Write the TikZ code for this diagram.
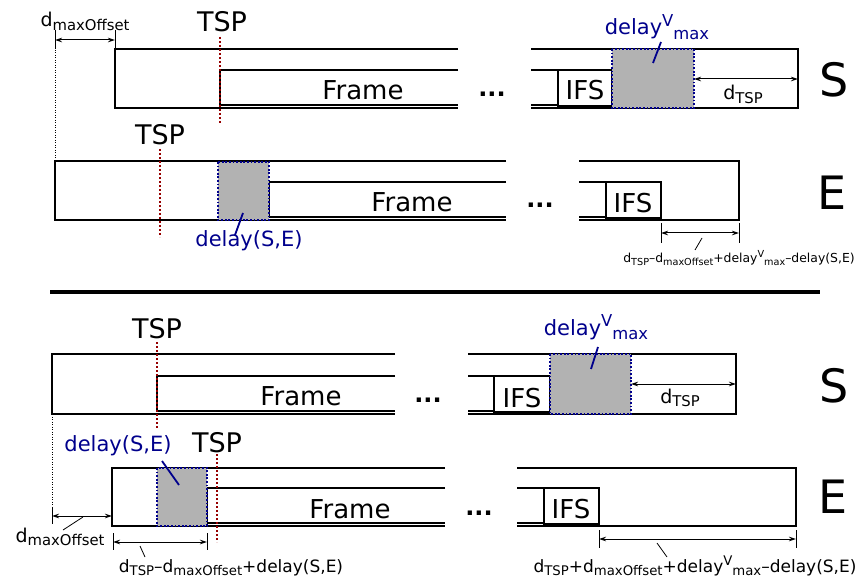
\documentclass[tikz,border=0pt]{standalone}
\usepackage{fontspec}
\setmainfont{DejaVu Sans}
\usetikzlibrary{arrows.meta}
\definecolor{navyb}{RGB}{0,0,140}
\definecolor{tspred}{RGB}{150,0,0}
\newcommand{\lsub}[1]{\raisebox{-0.35ex}{\scalebox{0.78}{#1}}}
\newcommand{\lsup}[1]{\raisebox{0.75ex}{\scalebox{0.78}{#1}}}
\tikzset{
  box/.style={line width=1.5pt},
  graybox/.style={fill=gray!60, draw=navyb, line width=1.8pt, dash pattern=on 1.8pt off 1.8pt},
  tspline/.style={draw=tspred, line width=2pt, dash pattern=on 2pt off 2pt},
  offline/.style={line width=1pt, dash pattern=on 1pt off 1.5pt},
  dim/.style={line width=1pt, {Stealth[length=7pt,width=4.5pt]}-{Stealth[length=7pt,width=4.5pt]}},
  tickln/.style={line width=1pt},
  leader/.style={line width=0.8pt},
  bleader/.style={draw=navyb, line width=1.8pt},
  bigtxt/.style={font=\fontsize{26}{26}\selectfont, inner sep=0pt, anchor=base},
  tsptxt/.style={font=\fontsize{27}{27}\selectfont, inner sep=0pt, anchor=base},
  rowtxt/.style={font=\fontsize{46}{46}\selectfont, inner sep=0pt, anchor=base},
  lbl/.style={font=\fontsize{19}{19}\selectfont, inner sep=0pt, anchor=base},
  blbl/.style={font=\fontsize{21}{21}\selectfont, text=navyb, inner sep=0pt, anchor=base},
  frm/.style={font=\fontsize{17}{17}\selectfont, inner sep=0pt, anchor=base},
  sfrm/.style={font=\fontsize{12.4}{12.4}\selectfont, inner sep=0pt, anchor=base},
  dotstxt/.style={font=\fontsize{24}{24}\selectfont\bfseries, inner sep=0pt, anchor=base},
}
\begin{document}
\begin{tikzpicture}[x=1pt,y=-1pt]
\useasboundingbox (0,0) rectangle (860,580);

% ================= TOP: S row =================
\draw[box] (458,49) -- (115,49) -- (115,108) -- (458,108);
\draw[box] (458,70) -- (220,70) -- (220,105) -- (458,105);
\draw[box] (531,49) -- (798,49) -- (798,108) -- (531,108);
\draw[box] (531,70) -- (558,70);
\draw[box] (531,105) -- (558,105);
\draw[box] (558,70) rectangle (612,106);
\draw[graybox] (612,49) rectangle (694,108);
\node[bigtxt] (frameA) at (363,100) {Frame};
\node[dotstxt] (dotsA) at (492,97) {...};
\node[bigtxt] (ifsA) at (585,100) {IFS};
\node[rowtxt] (rowSA) at (834,97) {S};
\node[tsptxt] (tspA) at (222,32) {TSP};
\draw[tspline] (220,37) -- (220,123);
\node[blbl] (dvmA) at (657,35) {delay\lsup{V}\lsub{max}};
\draw[bleader] (661,42) -- (653,63);
\coordinate (dtA1) at (694,79);
\coordinate (dtA2) at (798,79);
\draw[dim] (dtA1) -- (dtA2);
\node[lbl] (dtspA) at (743,100) {d\lsub{TSP}};
% d_maxOffset top
\node[lbl] (dmoA) at (85,27) {d\lsub{maxOffset}};
\coordinate (moA1) at (55,40);
\coordinate (moA2) at (115,40);
\draw[tickln] (55,30) -- (55,49);
\draw[tickln] (115,30) -- (115,49);
\draw[dim] (moA1) -- (moA2);
\draw[offline] (55,45) -- (55,161);

% ================= TOP: E row =================
\draw[box] (506,161) -- (55,161) -- (55,220) -- (506,220);
\draw[box] (506,182) -- (269,182) -- (269,217) -- (506,217);
\draw[box] (579,161) -- (739,161) -- (739,220) -- (579,220);
\draw[box] (579,182) -- (606,182);
\draw[box] (579,217) -- (606,217);
\draw[box] (606,182) rectangle (661,218);
\draw[graybox] (218,162) rectangle (269,220);
\node[bigtxt] (frameB) at (412,212) {Frame};
\node[dotstxt] (dotsB) at (540,208) {...};
\node[bigtxt] (ifsB) at (633,213) {IFS};
\node[rowtxt] (rowEB) at (832,210) {E};
\node[tsptxt] (tspB) at (160,145) {TSP};
\draw[tspline] (160,149) -- (160,237);
\node[blbl] (dseB) at (249,247) {delay(S,E)};
\draw[bleader] (243,213) -- (235,235);
\draw[tickln] (661,223) -- (661,243);
\draw[tickln] (739,223) -- (739,243);
\coordinate (fB1) at (661,233);
\coordinate (fB2) at (739,233);
\draw[dim] (fB1) -- (fB2);
\draw[leader] (702,238) -- (695,250);
\node[sfrm] (formB) at (739,263) {d\lsub{TSP}–d\lsub{maxOffset}+delay\lsup{V}\lsub{max}–delay(S,E)};

% separator
\draw[line width=3.5pt] (50,292) -- (820,292);

% ================= BOTTOM: S row =================
\draw[box] (395,354) -- (52,354) -- (52,414) -- (395,414);
\draw[box] (395,376) -- (157,376) -- (157,411) -- (395,411);
\draw[box] (468,354) -- (736,354) -- (736,414) -- (468,414);
\draw[box] (468,376) -- (494,376);
\draw[box] (468,411) -- (494,411);
\draw[box] (494,376) rectangle (550,412);
\draw[graybox] (550,354) rectangle (631,414);
\node[bigtxt] (frameC) at (301,405) {Frame};
\node[dotstxt] (dotsC) at (428,402) {...};
\node[bigtxt] (ifsC) at (522,407) {IFS};
\node[rowtxt] (rowSC) at (834,402) {S};
\node[tsptxt] (tspC) at (157,338) {TSP};
\draw[tspline] (157,342) -- (157,428);
\node[blbl] (dvmC) at (596,335) {delay\lsup{V}\lsub{max}};
\draw[bleader] (598,347) -- (591,369);
\coordinate (dtC1) at (631,384);
\coordinate (dtC2) at (736,384);
\draw[dim] (dtC1) -- (dtC2);
\node[lbl] (dtspC) at (680,403) {d\lsub{TSP}};
\draw[offline] (52,354) -- (52,510);

% ================= BOTTOM: E row =================
\draw[box] (445,468) -- (112,468) -- (112,526) -- (445,526);
\draw[box] (445,488) -- (207,488) -- (207,523) -- (445,523);
\draw[box] (517,468) -- (796,468) -- (796,526) -- (517,526);
\draw[box] (517,488) -- (544,488);
\draw[box] (517,523) -- (544,523);
\draw[box] (544,488) rectangle (599,524);
\draw[graybox] (157,468) rectangle (207,526);
\node[bigtxt] (frameD) at (350,518) {Frame};
\node[dotstxt] (dotsD) at (479,515) {...};
\node[bigtxt] (ifsD) at (571,518) {IFS};
\node[rowtxt] (rowED) at (833,513) {E};
\node[tsptxt] (tspD) at (217,452) {TSP};
\draw[tspline] (217,454) -- (217,542);
\node[blbl] (dseD) at (118,451) {delay(S,E)};
\draw[bleader] (162,461) -- (179,485);
% d_maxOffset bottom
\draw[tickln] (52,507) -- (52,524);
\coordinate (moD1) at (52,516);
\coordinate (moD2) at (112,516);
\draw[dim] (moD1) -- (moD2);
\draw[leader] (83,517) -- (63,530);
\node[lbl] (dmoD) at (60,542) {d\lsub{maxOffset}};
% left formula
\draw[tickln] (113,533) -- (113,550);
\draw[tickln] (207,533) -- (207,550);
\coordinate (fD1) at (113,542);
\coordinate (fD2) at (207,542);
\draw[dim] (fD1) -- (fD2);
\draw[leader] (140,546) -- (145,557);
\node[frm] (formD) at (231,572) {d\lsub{TSP}–d\lsub{maxOffset}+delay(S,E)};
% right formula
\draw[tickln] (599,530) -- (599,548);
\draw[tickln] (796,530) -- (796,548);
\coordinate (fE1) at (599,539);
\coordinate (fE2) at (796,539);
\draw[dim] (fE1) -- (fE2);
\draw[leader] (657,543) -- (667,557);
\node[frm] (formE) at (695,572) {d\lsub{TSP}+d\lsub{maxOffset}+delay\lsup{V}\lsub{max}–delay(S,E)};
\end{tikzpicture}
\end{document}
